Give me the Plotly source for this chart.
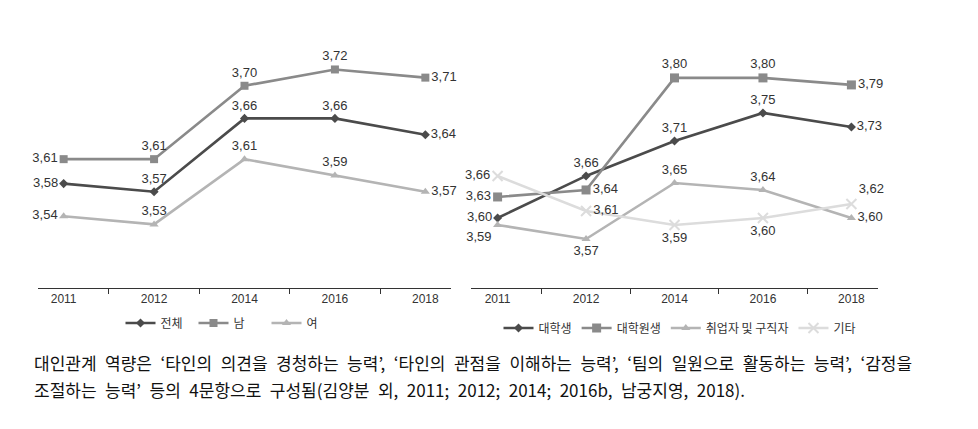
import plotly.graph_objects as go

W, H = 978, 429

years = ['2011', '2012', '2014', '2016', '2018']

# left panel: 성별
total = [3.58, 3.57, 3.66, 3.66, 3.64]
male = [3.61, 3.61, 3.70, 3.72, 3.71]
female = [3.54, 3.53, 3.61, 3.59, 3.57]

# right panel: 신분별
undergrad = [3.60, 3.66, 3.71, 3.75, 3.73]
grad = [3.63, 3.64, 3.80, 3.80, 3.79]
jobseeker = [3.59, 3.57, 3.65, 3.64, 3.60]
other = [3.66, 3.61, 3.59, 3.60, 3.62]

caption_1 = "대인관계 역량은 ‘타인의 의견을 경청하는 능력’, ‘타인의 관점을 이해하는 능력’, ‘팀의 일원으로 활동하는 능력’, ‘감정을"
caption_2 = "조절하는 능력’ 등의 4문항으로 구성됨(김양분 외, 2011; 2012; 2014; 2016b, 남궁지영, 2018)."

DARK, MID, LIGHT, PALE = '#4b4b4b', '#8a8a8a', '#b4b4b4', '#dcdcdc'
LABEL_FONT = dict(family='Liberation Sans Narrow, Liberation Sans, Arial', size=13, color='#333333')
KR = 'Noto Sans CJK KR'


def px_x(p):
    return p / W


def px_y(p):
    return 1 - p / H


fig = go.Figure()


def add(x, y, name, color, symbol, size, pos, xa, ya, legend):
    fig.add_trace(go.Scatter(
        x=x, y=y, name=name, mode='lines+markers+text',
        line=dict(color=color, width=2.6),
        marker=dict(symbol=symbol, size=size, color=color,
                    line=dict(width=2 if symbol == 'x-thin' else 0, color=color)),
        texttemplate='%{y:.2f}', textposition=pos, textfont=LABEL_FONT,
        cliponaxis=False, xaxis=xa, yaxis=ya, legend=legend,
        hoverinfo='skip'))


add(years, total, '전체', DARK, 'diamond', 7,
    ['middle left', 'top center', 'top center', 'top center', 'middle right'], 'x', 'y', 'legend')
add(years, male, '남', MID, 'square', 8,
    ['middle left', 'top center', 'top center', 'top center', 'middle right'], 'x', 'y', 'legend')
add(years, female, '여', LIGHT, 'triangle-up', 8,
    ['middle left', 'top center', 'top center', 'top center', 'middle right'], 'x', 'y', 'legend')

add(years, undergrad, '대학생', DARK, 'diamond', 7,
    ['middle left', 'top center', 'top center', 'top center', 'middle right'], 'x2', 'y2', 'legend2')
add(years, grad, '대학원생', MID, 'square', 9,
    ['middle left', 'middle right', 'top center', 'top center', 'middle right'], 'x2', 'y2', 'legend2')
add(years, jobseeker, '취업자 및 구직자', LIGHT, 'triangle-up', 8,
    ['bottom left', 'bottom center', 'top center', 'top center', 'middle right'], 'x2', 'y2', 'legend2')
add(years, other, '기타', PALE, 'x-thin', 10,
    ['middle left', 'middle right', 'bottom center', 'bottom center', 'top right'], 'x2', 'y2', 'legend2')

xaxis_style = dict(
    type='category', showgrid=False, zeroline=False, showline=True, linecolor='#333333', linewidth=1,
    ticks='outside', tickson='boundaries', ticklen=5, tickcolor='#333333',
    tickfont=dict(family='Liberation Sans Narrow, Liberation Sans, Arial', size=12, color='#333333'),
    fixedrange=True)
yaxis_style = dict(visible=False, showgrid=False, zeroline=False, fixedrange=True)

ydom = [px_y(280), px_y(37)]

fig.update_layout(
    width=W, height=H,
    margin=dict(l=0, r=0, t=0, b=0),
    paper_bgcolor='white', plot_bgcolor='white',
    separators=', ',
    xaxis=dict(domain=[px_x(30), px_x(443)], **xaxis_style),
    yaxis=dict(domain=ydom, range=[3.452, 3.75], **yaxis_style),
    xaxis2=dict(domain=[px_x(463), px_x(870)], anchor='y2', **xaxis_style),
    yaxis2=dict(domain=ydom, anchor='x2', range=[3.50, 3.847], **yaxis_style),
    legend=dict(orientation='h', x=px_x(222), xanchor='center', y=px_y(315), yanchor='middle',
                font=dict(family=KR, size=12, color='#333333'), itemwidth=30,
                entrywidth=28, entrywidthmode='pixels',
                bgcolor='rgba(0,0,0,0)'),
    legend2=dict(orientation='h', x=px_x(672), xanchor='center', y=px_y(320), yanchor='middle',
                 font=dict(family=KR, size=12, color='#333333'), itemwidth=30,
                 bgcolor='rgba(0,0,0,0)'),
    showlegend=True,
)

# the source caption is set with wide word spacing, so en spaces stand in for plain ones
for txt, yy in [(caption_1, 354), (caption_2, 381)]:
    fig.add_annotation(text=txt.replace(' ', '\u2002'), xref='paper', yref='paper', x=px_x(24), y=px_y(yy),
                       xanchor='left', yanchor='middle', showarrow=False,
                       font=dict(family=KR, size=17, color='#111111'))

fig.write_html("out.html")
